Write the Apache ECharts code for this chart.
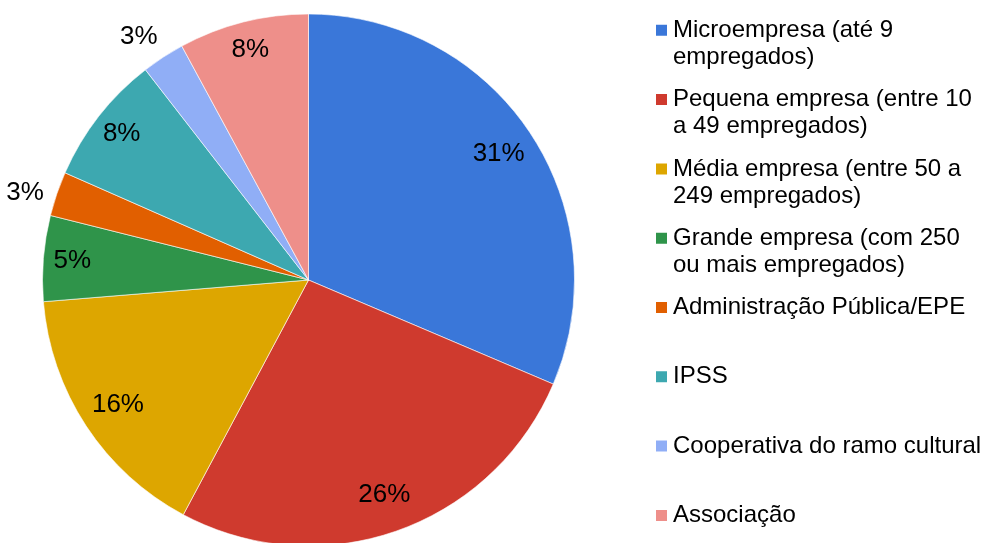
<!DOCTYPE html>
<html><head><meta charset="utf-8">
<script src="https://cdn.jsdelivr.net/npm/echarts@6/dist/echarts.min.js"></script>
<style>html,body{margin:0;padding:0;background:#fff}#c{width:984px;height:543px}</style>
</head><body><div id="c"></div>
<script>
const categories = ['Microempresa (até 9 empregados)', 'Pequena empresa (entre 10 a 49 empregados)', 'Média empresa (entre 50 a 249 empregados)', 'Grande empresa (com 250 ou mais empregados)', 'Administração Pública/EPE', 'IPSS', 'Cooperativa do ramo cultural', 'Associação'];
const legendLabels = ['Microempresa (até 9\nempregados)', 'Pequena empresa (entre 10\na 49 empregados)', 'Média empresa (entre 50 a\n249 empregados)', 'Grande empresa (com 250\nou mais empregados)', 'Administração Pública/EPE', 'IPSS', 'Cooperativa do ramo cultural', 'Associação'];
const values = [31.4, 26.4, 15.9, 5.2, 2.7, 7.9, 2.6, 7.9];
const colors = ['#3A77D9', '#CF3A2E', '#DDA600', '#2F944A', '#E15F00', '#3DA8B0', '#90AEF6', '#EE8F8A'];
const outsideLabel = [false, false, false, false, true, false, true, false];

const FONT = 'Liberation Sans, Arial, sans-serif';
const chart = echarts.init(document.getElementById('c'), null, {renderer: 'canvas'});
const center = [308.5, 280];
const R = 266;
const total = values.reduce((a, b) => a + b, 0);
const pct = p => Math.round(p.percent) + '%';
const labelStyle = {fontFamily: FONT, fontSize: 26, color: '#000'};

// ring: 'big' (inside, large slices), 'small' (inside, small slices), 'out' (outside)
function ringOf(i) {
  if (outsideLabel[i]) return 'out';
  return values[i] / total >= 0.1 ? 'big' : 'small';
}
function labelSeries(radius, ring, startAngle) {
  return {
    type: 'pie', center: center, radius: radius, silent: true, legendHoverLink: false,
    avoidLabelOverlap: false, startAngle: startAngle, clockwise: true,
    labelLine: {show: false}, emphasis: {disabled: true},
    data: categories.map((n, i) => ({
      name: n, value: values[i],
      itemStyle: {color: 'rgba(0,0,0,0)', borderWidth: 0},
      label: Object.assign({show: ringOf(i) === ring, position: 'inside', formatter: pct}, labelStyle)
    }))
  };
}
// legend text: pad to three lines so the first line sits beside the icon
function legendText(name) {
  const t = legendLabels[categories.indexOf(name)];
  return t.indexOf('\n') >= 0 ? ' \n' + t : ' \n' + t + '\n ';
}

chart.setOption({
  animation: false,
  legend: {
    orient: 'vertical', left: 654, top: -10.2, height: 620, padding: 0, itemGap: -11.7,
    itemWidth: 13, itemHeight: 13,
    selectedMode: false,
    textStyle: {fontFamily: FONT, fontSize: 24, lineHeight: 27, color: '#000'},
    data: categories.map((n, i) => ({name: n, icon: 'rect', itemStyle: {color: colors[i]}})),
    formatter: legendText
  },
  series: [
    {
      type: 'pie', center: center, radius: [0, R], startAngle: 90, clockwise: true,
      avoidLabelOverlap: false, label: {show: false}, labelLine: {show: false},
      emphasis: {disabled: true},
      itemStyle: {borderColor: '#fff', borderWidth: 0.6},
      data: categories.map((n, i) => ({name: n, value: values[i], itemStyle: {color: colors[i]}}))
    },
    labelSeries([190, 260], 'big', 90),
    labelSeries([204, 264], 'small', 90),
    labelSeries([279, 308], 'out', 91.8)
  ]
});
</script></body></html>
